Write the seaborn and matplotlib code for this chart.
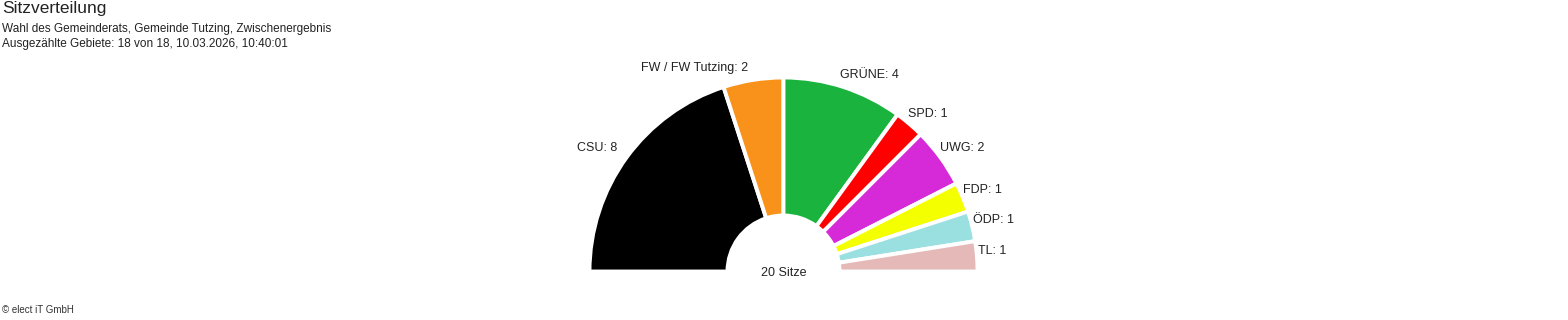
import numpy as np
import matplotlib
matplotlib.use("Agg")
import matplotlib.pyplot as plt
import seaborn as sns

parties = ["CSU", "FW / FW Tutzing", "GRÜNE", "SPD", "UWG", "FDP", "ÖDP", "TL"]
seats = [8, 2, 4, 1, 2, 1, 1, 1]
colors = ["#000000", "#F9921A", "#19B33D", "#FF0000", "#D62AD9", "#F4FF00", "#9BE0E0", "#E6B9B9"]
title = "Sitzverteilung"
subtitle1 = "Wahl des Gemeinderats, Gemeinde Tutzing, Zwischenergebnis"
subtitle2 = "Ausgezählte Gebiete: 18 von 18, 10.03.2026, 10:40:01"
footer = "© elect iT GmbH"

sns.set_theme(style="white")
plt.rcParams["font.family"] = ["Liberation Sans", "DejaVu Sans"]

W, H = 1568, 320
fig = plt.figure(figsize=(W / 100, H / 100), dpi=100)
ax = fig.add_axes([0, 0, 1, 1])

cx, cy = 783.5, H - 271.5
R = 194
inner = 56
total = sum(seats)
vals = seats + [total]
cols = colors + ["none"]
wedges, _ = ax.pie(vals, colors=cols, startangle=180, counterclock=False,
                   radius=R, center=(cx, cy),
                   wedgeprops=dict(width=R - inner, edgecolor="white", linewidth=2.8))
wedges[-1].set_visible(False)

ax.set_xlim(0, W)
ax.set_ylim(0, H)
ax.set_aspect("equal")
ax.axis("off")

# labels
start = 180.0
lr = 201
for p, s in zip(parties, seats):
    span = 180.0 * s / total
    mid = np.deg2rad(start - span / 2)
    start -= span
    x = cx + lr * np.cos(mid)
    y = cy + lr * np.sin(mid)
    if np.cos(mid) < -0.05:
        ha, x = "right", x - 4
    else:
        ha, x = "left", x - 6
    ax.text(x, y + 5, f"{p}: {s}", ha=ha, va="center", fontsize=9, color="#222222")

ax.text(cx, H - 273, f"{total} Sitze", ha="center", va="center", fontsize=9, color="#222222")

fig.text(2 / W, 1 - 1 / H, title, ha="left", va="top", fontsize=12.5, color="#222222")
fig.text(2 / W, 1 - 23 / H, subtitle1, ha="left", va="top", fontsize=8.5, color="#222222")
fig.text(2 / W, 1 - 38 / H, subtitle2, ha="left", va="top", fontsize=8.5, color="#222222")
fig.text(2 / W, 1 - 310 / H, footer, ha="left", va="center", fontsize=7, color="#333333")

fig.savefig("out.png", dpi=100)
